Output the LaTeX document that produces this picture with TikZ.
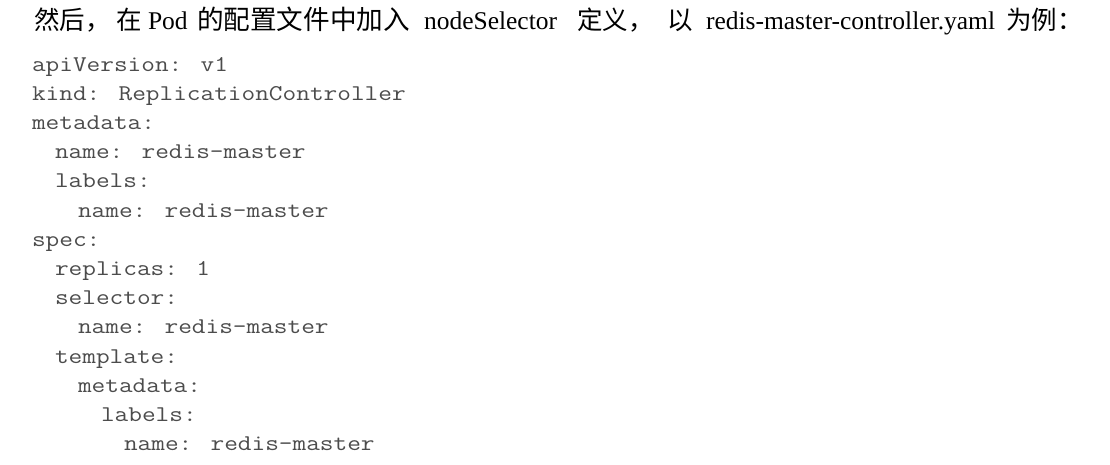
\documentclass[tikz,border=0pt]{standalone}
\usepackage{fontspec}
\setmainfont{Liberation Serif}
\newfontfamily\cjk{Noto Sans CJK SC}
\newfontfamily\codefont{Latin Modern Mono}[FakeStretch=1.18]
\tikzset{
  txt/.style={anchor=base west, inner sep=0pt, outer sep=0pt, text=black, font=\fontsize{25.5}{30}\selectfont},
  cjktxt/.style={anchor=base west, inner sep=0pt, outer sep=0pt, text=black, font=\cjk\fontsize{25.5}{30}\selectfont},
  cjkwide/.style={cjktxt, font=\cjk\fontsize{26.6}{30}\selectfont},
  code/.style={anchor=base west, inner sep=0pt, outer sep=0pt, text=black!70, font=\codefont\fontsize{22.5}{29}\selectfont}
}
\begin{document}
\begin{tikzpicture}[x=1pt,y=-1pt]
\path[fill=white,use as bounding box] (0,0) rectangle (1110,464);
% first line
\node[cjktxt] (t1) at (34,29) {然后，};
\node[cjktxt] (t2) at (116,29) {在};
\node[txt]    (t3) at (148,29) {Pod};
\node[cjkwide] (t4) at (197,29) {的配置文件中加入};
\node[txt]    (t5) at (424,29) {nodeSelector};
\node[cjktxt] (t6) at (577,29) {定义，};
\node[cjktxt] (t7) at (667,29) {以};
\node[txt]    (t8) at (706,29) {redis-master-controller.yaml};
\node[cjktxt] (t9) at (1006,29) {为例：};
% code
\def\cx{32}
\def\ind{23}
\node[code] (c1)  at (\cx,71)            {apiVersion: v1};
\node[code] (c2)  at (\cx,100.2)         {kind: ReplicationController};
\node[code] (c3)  at (\cx,129.4)         {metadata:};
\node[code] (c4)  at (\cx+\ind,158.6)    {name: redis-master};
\node[code] (c5)  at (\cx+\ind,187.8)    {labels:};
\node[code] (c6)  at (\cx+2*\ind,217)    {name: redis-master};
\node[code] (c7)  at (\cx,246.2)         {spec:};
\node[code] (c8)  at (\cx+\ind,275.4)    {replicas: 1};
\node[code] (c9)  at (\cx+\ind,304.6)    {selector:};
\node[code] (c10) at (\cx+2*\ind,333.8)  {name: redis-master};
\node[code] (c11) at (\cx+\ind,363)      {template:};
\node[code] (c12) at (\cx+2*\ind,392.2)  {metadata:};
\node[code] (c13) at (\cx+3*\ind,421.4)  {labels:};
\node[code] (c14) at (\cx+4*\ind,450.6)  {name: redis-master};
\end{tikzpicture}
\end{document}
